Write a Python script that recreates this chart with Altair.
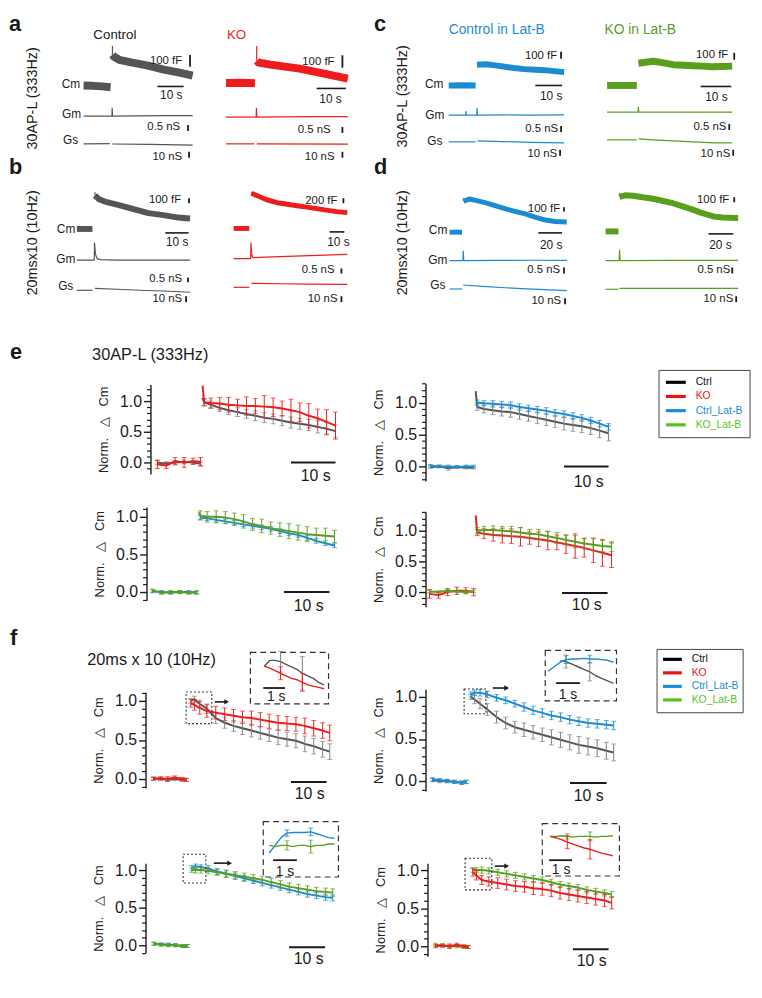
import altair as alt
import pandas as pd

# ===================== DATA =====================
# --- a-d: raw traces. t in s from stimulus; Cm in fF above baseline; Gm, Gs in nS ---
A_CTRL_CM_BASE_T = [-10.6, -7.0, -3.5, -0.3]
A_CTRL_CM_BASE = [0, -3, -8, -15]
A_CTRL_CM_T = [0.4, 1, 3, 8, 14, 20, 26, 31]
A_CTRL_CM = [265, 248, 222, 197, 171, 137, 111, 85]
A_CTRL_CM_PEAK = 342
A_CTRL_GM_T = [-10.6, -0.3, 0.2, 0.3, 0.45, 10, 20, 31]
A_CTRL_GM = [0, 0, 0, 0.67, 0, 0.02, 0.04, 0.05]
A_CTRL_GS_BASE_T = [-10.6, -0.6]
A_CTRL_GS_BASE = [0, 0.5]
A_CTRL_GS_T = [0.3, 15, 31]
A_CTRL_GS = [-0.3, -1, -2]

A_KO_CM_BASE_T = [-10.2, -5, -0.3]
A_KO_CM_BASE = [0, 2, -2]
A_KO_CM_T = [0.3, 1, 5, 10, 15, 20, 25, 31.5]
A_KO_CM = [180, 164, 148, 132, 116, 92, 68, 36]
A_KO_CM_PEAK = 300
A_KO_GM_T = [-10.2, -0.3, 0.1, 0.2, 0.35, 10, 20, 31.5]
A_KO_GM = [0, 0, 0, 0.75, 0, 0.02, 0.04, 0.04]
A_KO_GS_BASE_T = [-10.2, -0.5]
A_KO_GS_BASE = [0, 0]
A_KO_GS_T = [0.3, 31.5]
A_KO_GS = [0, -0.5]

C_CTRL_CM_BASE_T = [-10.4, -5, -0.3]
C_CTRL_CM_BASE = [0, 3, 0]
C_CTRL_CM_T = [0.2, 3.5, 7, 10.6, 14, 18, 22, 25.4, 29, 32.8]
C_CTRL_CM = [300, 307, 290, 271, 252, 236, 228, 221, 207, 193]
C_CTRL_GM_T = [-10.4, -4.0, -3.9, -3.8, -0.3, 0.1, 0.2, 0.35, 10, 20, 32.8]
C_CTRL_GM = [0, 0, 0.33, 0, 0, 0, 0.58, 0, 0.02, 0, 0.02]
C_CTRL_GS_BASE_T = [-10.4, -0.3]
C_CTRL_GS_BASE = [0, 0]
C_CTRL_GS_T = [0.3, 10, 20, 32.8]
C_CTRL_GS = [1.7, 0.5, -0.8, -1.7]

C_KO_CM_BASE_T = [-10, -5, -0.3]
C_KO_CM_BASE = [0, 0, 0]
C_KO_CM_T = [0.2, 2.5, 5, 8, 11.5, 15, 17.9, 21, 24.4, 27.5, 30.8]
C_KO_CM = [321, 335, 350, 330, 300, 292, 286, 280, 271, 275, 279]
C_KO_GM_T = [-10, -0.3, 0.1, 0.2, 0.35, 15, 30.8]
C_KO_GM = [0, 0, 0, 0.42, 0, 0, 0]
C_KO_GS_BASE_T = [-10, -0.3]
C_KO_GS_BASE = [0, 0]
C_KO_GS_T = [0.3, 5, 18, 25, 30.8]
C_KO_GS = [1.7, 0, -3.3, -5, -5]

B_CTRL_CM_BASE_T = [-7.2, -3.5, -0.5]
B_CTRL_CM_BASE = [0, 0, 0]
B_CTRL_CM_T = [0.6, 2.3, 5.7, 10.9, 17.2, 23.6, 30, 36.4, 41.5]
B_CTRL_CM = [680, 600, 540, 480, 400, 320, 280, 230, 210]
B_CTRL_CM_PEAK = 740
B_CTRL_GM_T = [-7.2, -0.5, 0.3, 0.4, 0.8, 1.5, 3, 10, 41.5]
B_CTRL_GM = [0, 0, 0, 1.75, 0.6, 0.15, 0.05, 0, 0]
B_CTRL_GS_BASE_T = [-7.2, -0.5]
B_CTRL_GS_BASE = [0, 0]
B_CTRL_GS_T = [0.6, 10, 20, 30, 41.5]
B_CTRL_GS = [3.3, 1.7, 0, -1.2, -3.3]

B_KO_CM_BASE_T = [-11.3, -5, -0.7]
B_KO_CM_BASE = [0, 0, 0]
B_KO_CM_T = [0.7, 4.7, 11, 18, 25, 31.3, 38, 44.7, 51, 58, 65.3]
B_KO_CM = [1420, 1320, 1160, 1040, 980, 920, 860, 800, 740, 680, 640]
B_KO_CM_PEAK = 1460
B_KO_GM_T = [-11.3, -0.7, 0.2, 0.4, 0.8, 1.5, 10, 30, 50, 65.3]
B_KO_GM = [0, 0, 0, 1.6, 0.5, 0.1, 0.15, 0.25, 0.35, 0.42]
B_KO_GS_BASE_T = [-11.3, -0.7]
B_KO_GS_BASE = [0, 0]
B_KO_GS_T = [0.7, 20, 40, 65.3]
B_KO_GS = [6.7, 6, 5.5, 5]

D_CTRL_CM_BASE_T = [-11, -5, -0.5]
D_CTRL_CM_BASE = [0, 0, 0]
D_CTRL_CM_T = [0.7, 5.7, 12, 19.6, 28, 36.25, 44, 52.9, 61, 69.6, 78, 87.7]
D_CTRL_CM = [700, 745, 710, 658, 590, 524, 470, 413, 340, 273, 240, 229]
D_CTRL_CM_PEAK = 770
D_CTRL_GM_T = [-11, -0.5, 0.2, 0.5, 1.0, 30, 60, 87.7]
D_CTRL_GM = [0, 0, 0, 0.8, 0, 0.02, 0.03, 0.02]
D_CTRL_GS_BASE_T = [-11, -0.5]
D_CTRL_GS_BASE = [0, 0]
D_CTRL_GS_T = [0.5, 20, 50, 87.7]
D_CTRL_GS = [6.7, 4, 0.5, -2.7]

D_KO_CM_BASE_T = [-10.8, -5, -0.4]
D_KO_CM_BASE = [0, 0, 0]
D_KO_CM_T = [0.4, 5, 11.6, 19, 27.6, 35, 43.6, 51, 59.6, 66, 71.6, 77, 83.6, 90, 96.4]
D_KO_CM = [700, 730, 720, 690, 660, 620, 570, 510, 440, 380, 340, 300, 280, 275, 270]
D_KO_CM_PEAK = 770
D_KO_GM_T = [-10.8, -0.4, 0.2, 0.5, 1.0, 40, 96.4]
D_KO_GM = [0, 0, 0, 0.9, 0, 0.02, 0.02]
D_KO_GS_BASE_T = [-10.8, -0.4]
D_KO_GS_BASE = [0, 0]
D_KO_GS_T = [0.4, 96.4]
D_KO_GS = [1.7, 1.7]

# --- e, f: normalized delta Cm, mean and error ---
E_BASE_T = [-10, -8, -6, -4, -2, -0.3]
E_T = [0.5, 2, 4, 6, 8, 10, 12, 14, 16, 18, 20, 22, 24, 26, 28, 30]
F_BASE_T = [-10, -8, -6, -4, -2, -0.8]
F_T = [0.5, 1.5, 3, 5, 7.5, 10, 12.5, 15, 17.5, 20, 22.5, 25, 27.5, 30, 32.5, 35, 37.5, 39.5]

E1_CTRL_BASE = [0.0, -0.02, 0.0, 0.01, 0.0, -0.02]
E1_CTRL_BASE_ERR = [0.03, 0.03, 0.03, 0.03, 0.03, 0.03]
E1_CTRL_PEAK = 1.05
E1_CTRL = [0.98, 0.94, 0.89, 0.85, 0.82, 0.79, 0.76, 0.73, 0.71, 0.68, 0.65, 0.63, 0.61, 0.58, 0.55, 0.51]
E1_CTRL_ERR = [0.05, 0.06, 0.06, 0.07, 0.07, 0.07, 0.08, 0.08, 0.08, 0.08, 0.09, 0.09, 0.09, 0.1, 0.1, 0.1]
E1_KO_BASE = [-0.03, -0.05, 0.02, 0.0, 0.02, 0.01]
E1_KO_BASE_ERR = [0.07, 0.05, 0.06, 0.08, 0.05, 0.07]
E1_KO_PEAK = 1.25
E1_KO = [0.98, 0.97, 0.96, 0.94, 0.93, 0.92, 0.92, 0.91, 0.9, 0.88, 0.85, 0.82, 0.76, 0.72, 0.66, 0.6]
E1_KO_ERR = [0.06, 0.08, 0.1, 0.12, 0.1, 0.15, 0.12, 0.18, 0.15, 0.12, 0.18, 0.15, 0.2, 0.15, 0.2, 0.22]

E2_CTRL_BASE = [-0.01, 0.0, -0.03, -0.01, -0.02, -0.02]
E2_CTRL_BASE_ERR = [0.02, 0.02, 0.03, 0.02, 0.02, 0.02]
E2_CTRL_PEAK = 1.18
E2_CTRL = [0.93, 0.9, 0.88, 0.86, 0.85, 0.82, 0.79, 0.76, 0.73, 0.7, 0.67, 0.65, 0.63, 0.6, 0.56, 0.52]
E2_CTRL_ERR = [0.05, 0.06, 0.07, 0.07, 0.08, 0.08, 0.08, 0.09, 0.09, 0.09, 0.1, 0.1, 0.1, 0.1, 0.11, 0.12]
E2_BLUE_BASE = [0.01, 0.0, 0.0, -0.01, 0.0, 0.0]
E2_BLUE_BASE_ERR = [0.02, 0.02, 0.02, 0.02, 0.02, 0.02]
E2_BLUE = [1.0, 0.99, 0.98, 0.97, 0.96, 0.93, 0.91, 0.89, 0.87, 0.84, 0.82, 0.79, 0.76, 0.72, 0.67, 0.62]
E2_BLUE_ERR = [0.04, 0.04, 0.05, 0.05, 0.05, 0.05, 0.05, 0.05, 0.05, 0.05, 0.05, 0.05, 0.05, 0.05, 0.05, 0.05]

E3_BLUE_BASE = [0.01, 0.0, -0.01, 0.0, 0.0, -0.01]
E3_BLUE_BASE_ERR = [0.02, 0.02, 0.02, 0.02, 0.02, 0.02]
E3_BLUE = [0.99, 0.98, 0.96, 0.94, 0.92, 0.9, 0.88, 0.86, 0.84, 0.81, 0.78, 0.76, 0.72, 0.68, 0.65, 0.62]
E3_BLUE_ERR = [0.03, 0.03, 0.03, 0.03, 0.03, 0.03, 0.03, 0.03, 0.03, 0.03, 0.03, 0.03, 0.03, 0.03, 0.03, 0.03]
E3_GREEN_BASE = [0.02, -0.01, 0.0, 0.0, -0.01, 0.0]
E3_GREEN_BASE_ERR = [0.02, 0.02, 0.02, 0.02, 0.02, 0.02]
E3_GREEN_PEAK = 1.06
E3_GREEN = [1.02, 1.0, 1.0, 0.99, 0.97, 0.94, 0.9, 0.88, 0.85, 0.83, 0.81, 0.79, 0.77, 0.76, 0.75, 0.74]
E3_GREEN_ERR = [0.06, 0.07, 0.08, 0.08, 0.08, 0.09, 0.08, 0.09, 0.08, 0.09, 0.1, 0.1, 0.1, 0.09, 0.1, 0.08]

E4_KO_BASE = [-0.03, -0.05, 0.0, 0.02, 0.02, 0.0]
E4_KO_BASE_ERR = [0.07, 0.05, 0.06, 0.06, 0.05, 0.06]
E4_KO_PEAK = 1.25
E4_KO = [0.97, 0.95, 0.93, 0.92, 0.91, 0.9, 0.88, 0.86, 0.84, 0.81, 0.78, 0.75, 0.72, 0.68, 0.64, 0.6]
E4_KO_ERR = [0.05, 0.08, 0.1, 0.12, 0.12, 0.15, 0.1, 0.12, 0.15, 0.12, 0.15, 0.2, 0.15, 0.2, 0.22, 0.2]
E4_GREEN_BASE = [0.01, 0.0, 0.02, 0.01, 0.0, 0.01]
E4_GREEN_BASE_ERR = [0.02, 0.02, 0.02, 0.02, 0.02, 0.02]
E4_GREEN = [1.0, 1.01, 1.01, 1.0, 0.99, 0.97, 0.95, 0.94, 0.91, 0.88, 0.85, 0.82, 0.79, 0.77, 0.75, 0.74]
E4_GREEN_ERR = [0.05, 0.06, 0.07, 0.07, 0.08, 0.08, 0.07, 0.08, 0.08, 0.09, 0.08, 0.1, 0.09, 0.1, 0.09, 0.08]

F1_CTRL_BASE = [0.01, 0.0, -0.01, 0.0, -0.01, -0.01]
F1_CTRL_BASE_ERR = [0.02, 0.02, 0.02, 0.02, 0.02, 0.02]
F1_CTRL = [1.0, 1.02, 0.96, 0.9, 0.78, 0.72, 0.68, 0.65, 0.62, 0.59, 0.56, 0.53, 0.51, 0.49, 0.45, 0.42, 0.38, 0.35]
F1_CTRL_ERR = [0.03, 0.04, 0.05, 0.06, 0.07, 0.07, 0.07, 0.08, 0.08, 0.08, 0.08, 0.09, 0.09, 0.09, 0.1, 0.1, 0.1, 0.1]
F1_KO_BASE = [0.0, 0.01, 0.0, 0.02, 0.0, -0.01]
F1_KO_BASE_ERR = [0.02, 0.02, 0.03, 0.02, 0.02, 0.02]
F1_KO = [0.97, 0.95, 0.91, 0.87, 0.85, 0.83, 0.81, 0.79, 0.78, 0.76, 0.74, 0.72, 0.71, 0.7, 0.68, 0.65, 0.62, 0.59]
F1_KO_ERR = [0.05, 0.07, 0.08, 0.08, 0.08, 0.08, 0.08, 0.08, 0.09, 0.09, 0.09, 0.09, 0.09, 0.09, 0.1, 0.1, 0.1, 0.1]

F2_CTRL_BASE = [0.01, 0.0, 0.0, -0.01, -0.02, -0.01]
F2_CTRL_BASE_ERR = [0.02, 0.02, 0.02, 0.02, 0.02, 0.02]
F2_CTRL = [1.0, 0.97, 0.92, 0.85, 0.76, 0.69, 0.64, 0.61, 0.58, 0.55, 0.52, 0.49, 0.46, 0.43, 0.41, 0.39, 0.36, 0.34]
F2_CTRL_ERR = [0.03, 0.05, 0.06, 0.07, 0.07, 0.07, 0.07, 0.08, 0.08, 0.08, 0.09, 0.09, 0.09, 0.1, 0.1, 0.1, 0.1, 0.1]
F2_BLUE_BASE = [0.02, 0.01, 0.0, -0.01, -0.02, -0.01]
F2_BLUE_BASE_ERR = [0.02, 0.02, 0.02, 0.02, 0.02, 0.02]
F2_BLUE = [1.03, 1.05, 1.05, 1.03, 0.99, 0.96, 0.92, 0.88, 0.84, 0.81, 0.78, 0.76, 0.73, 0.71, 0.69, 0.68, 0.67, 0.66]
F2_BLUE_ERR = [0.03, 0.03, 0.04, 0.04, 0.04, 0.04, 0.04, 0.05, 0.05, 0.05, 0.05, 0.05, 0.05, 0.05, 0.05, 0.05, 0.05, 0.05]

F3_BLUE_BASE = [0.02, 0.01, 0.01, 0.0, -0.01, -0.01]
F3_BLUE_BASE_ERR = [0.02, 0.02, 0.02, 0.02, 0.02, 0.02]
F3_BLUE = [1.03, 1.05, 1.04, 1.02, 0.98, 0.95, 0.92, 0.89, 0.86, 0.83, 0.8, 0.77, 0.74, 0.71, 0.68, 0.66, 0.64, 0.63]
F3_BLUE_ERR = [0.03, 0.03, 0.03, 0.04, 0.04, 0.04, 0.04, 0.04, 0.04, 0.04, 0.04, 0.04, 0.04, 0.04, 0.04, 0.04, 0.04, 0.04]
F3_GREEN_BASE = [0.02, 0.01, 0.0, 0.0, -0.01, -0.01]
F3_GREEN_BASE_ERR = [0.02, 0.02, 0.02, 0.02, 0.02, 0.02]
F3_GREEN = [1.0, 1.0, 1.0, 0.99, 0.97, 0.95, 0.93, 0.91, 0.89, 0.87, 0.84, 0.81, 0.78, 0.76, 0.74, 0.72, 0.71, 0.7]
F3_GREEN_ERR = [0.03, 0.04, 0.04, 0.04, 0.04, 0.05, 0.05, 0.05, 0.05, 0.05, 0.05, 0.05, 0.05, 0.05, 0.05, 0.05, 0.05, 0.05]

F4_GREEN_BASE = [0.02, 0.01, 0.0, 0.0, -0.01, -0.01]
F4_GREEN_BASE_ERR = [0.02, 0.02, 0.02, 0.02, 0.02, 0.02]
F4_GREEN = [1.0, 1.0, 1.0, 0.99, 0.97, 0.95, 0.93, 0.91, 0.89, 0.87, 0.84, 0.81, 0.79, 0.77, 0.74, 0.72, 0.7, 0.68]
F4_GREEN_ERR = [0.03, 0.03, 0.04, 0.04, 0.04, 0.04, 0.04, 0.04, 0.04, 0.04, 0.04, 0.04, 0.04, 0.04, 0.04, 0.04, 0.04, 0.04]
F4_KO_BASE = [0.0, 0.01, 0.0, 0.02, 0.0, -0.01]
F4_KO_BASE_ERR = [0.02, 0.02, 0.03, 0.02, 0.02, 0.02]
F4_KO = [0.97, 0.93, 0.87, 0.85, 0.83, 0.81, 0.79, 0.78, 0.76, 0.75, 0.73, 0.7, 0.68, 0.66, 0.64, 0.62, 0.6, 0.57]
F4_KO_ERR = [0.05, 0.06, 0.06, 0.06, 0.07, 0.07, 0.07, 0.07, 0.08, 0.08, 0.08, 0.08, 0.08, 0.08, 0.08, 0.08, 0.08, 0.08]

# --- f insets (first ~3 s) ---
INSET_T = [0, 0.25, 0.5, 0.75, 1.0, 1.25, 1.5, 1.75, 2.0, 2.25, 2.5, 2.75]
INSET_ERR_IDX = [3, 7]
F1_IN_CTRL = [0.985, 1.03, 1.03, 1.02, 1.0, 0.98, 0.96, 0.93, 0.91, 0.89, 0.86, 0.84]
F1_IN_CTRL_ERR = [0.08, 0.13]
F1_IN_KO = [0.985, 0.97, 0.95, 0.93, 0.91, 0.89, 0.88, 0.86, 0.84, 0.83, 0.82, 0.81]
F1_IN_KO_ERR = [0.05, 0.07]
F2_IN_BLUE = [0.915, 0.95, 0.985, 1.005, 1.01, 1.01, 1.015, 1.01, 1.01, 1.005, 1.0, 0.985]
F2_IN_BLUE_ERR = [0.03, 0.03]
F2_IN_CTRL = [None, None, 0.995, 0.99, 0.97, 0.95, 0.93, 0.91, 0.88, 0.86, 0.84, 0.82]
F2_IN_CTRL_ERR = [0.05, 0.07]
F3_IN_BLUE = [0.94, 1.0, 1.06, 1.095, 1.1, 1.1, 1.1, 1.105, 1.09, 1.075, 1.06, 1.055]
F3_IN_BLUE_ERR = [0.025, 0.03]
F3_IN_GREEN = [1.0, 0.99, 1.0, 1.0, 0.99, 1.0, 1.0, 0.99, 1.0, 1.0, 1.01, 1.01]
F3_IN_GREEN_ERR = [0.035, 0.05]
F4_IN_GREEN = [1.0, 1.0, 1.005, 1.0, 0.995, 1.0, 1.0, 1.0, 0.995, 1.0, 1.0, 1.005]
F4_IN_GREEN_ERR = [0.02, 0.035]
F4_IN_KO = [1.0, 0.99, 0.975, 0.955, 0.94, 0.925, 0.91, 0.9, 0.885, 0.87, 0.86, 0.85]
F4_IN_KO_ERR = [0.05, 0.075]

LEGEND_NAMES = ["Ctrl", "KO", "Ctrl_Lat-B", "KO_Lat-B"]
MAJOR_TICKS = [0.0, 0.5, 1.0]
MINOR_TICKS = [-0.2, -0.1, 0.1, 0.2, 0.3, 0.4, 0.6, 0.7, 0.8, 0.9, 1.1, 1.2, 1.3]

# ===================== STYLE / LAYOUT =====================
OX, OY = 8, 8
W, H = 754, 990
FONT = "Liberation Sans, Arial, sans-serif"
INK = "#1a1a1a"
GREY, GREY_E = "#555555", "#808080"
RED, BLUE, GREEN = "#ee1c1c", "#1c8bd2", "#5a9e1e"
LEG_COLORS = ["#000000", "#ee1111", "#1c8bd2", "#55c41c"]
LEG_TEXT = ["#111111", "#e81818", "#1c8bd2", "#5cc228"]
NB = "\u00a0"
DUMMY = pd.DataFrame({"k": [0]})


def frame(x0, pps, y0, ppu, lo=-1.0e4, hi=1.0e4):
    return dict(
        x0=x0, pps=pps, y0=y0, ppu=ppu, lo=lo, hi=hi,
        xs=alt.Scale(domain=[-300, 300], range=[x0 - 300 * pps - OX, x0 + 300 * pps - OX],
                     nice=False, zero=False),
        ys=alt.Scale(domain=[lo, hi], range=[y0 - lo * ppu - OY, y0 - hi * ppu - OY],
                     nice=False, zero=False),
    )


def tx(fr, px):
    return (px - fr["x0"]) / fr["pps"]


def vy(fr, py):
    return (fr["y0"] - py) / fr["ppu"]


def X(fr, f="t"):
    return alt.X(f"{f}:Q", scale=fr["xs"], axis=None)


def Y(fr, f="v"):
    return alt.Y(f"{f}:Q", scale=fr["ys"], axis=None)


def line(fr, t, v, color, width, opacity=1.0):
    rows = [(a, b) for a, b in zip(t, v) if b is not None]
    df = pd.DataFrame({"t": [r[0] for r in rows], "v": [r[1] for r in rows]})
    return alt.Chart(df).mark_line(color=color, strokeWidth=width, opacity=opacity,
                                   strokeJoin="round").encode(x=X(fr), y=Y(fr))


def seg(fr, t1, v1, t2, v2, color=INK, width=1.5, dash=None):
    mk = dict(color=color, strokeWidth=width)
    if dash:
        mk["strokeDash"] = dash
    df = pd.DataFrame({"t": [t1], "v": [v1], "t2": [t2], "v2": [v2]})
    return alt.Chart(df).mark_rule(**mk).encode(x=X(fr), y=Y(fr), x2="t2:Q", y2="v2:Q")


def errbars(fr, t, v, e, color, cap=5, width=1.0):
    df = pd.DataFrame({"t": t, "lo": [a - b for a, b in zip(v, e)], "hi": [a + b for a, b in zip(v, e)]})
    base = alt.Chart(df)
    return [
        base.mark_rule(color=color, strokeWidth=width).encode(x=X(fr), y=Y(fr, "lo"), y2="hi:Q"),
        base.mark_tick(color=color, orient="horizontal", size=cap, thickness=width).encode(x=X(fr), y=Y(fr, "hi")),
        base.mark_tick(color=color, orient="horizontal", size=cap, thickness=width).encode(x=X(fr), y=Y(fr, "lo")),
    ]


def box(fr, x1, y1, x2, y2, stroke=INK, width=1.0, dash=None, fill=None):
    mk = dict(stroke=stroke, strokeWidth=width)
    if dash:
        mk["strokeDash"] = dash
    if fill:
        mk["fill"] = fill
    else:
        mk["fillOpacity"] = 0
    df = pd.DataFrame({"t": [tx(fr, x1)], "t2": [tx(fr, x2)], "v": [vy(fr, y1)], "v2": [vy(fr, y2)]})
    return alt.Chart(df).mark_rect(**mk).encode(x=X(fr), x2="t2:Q", y=Y(fr), y2="v2:Q")


def txt(s, x, y, size=12, color=INK, align="center", angle=0, weight="normal", font=FONT, baseline="middle"):
    return alt.Chart(DUMMY).mark_text(text=s, fontSize=size, color=color, align=align, baseline=baseline,
                                      angle=angle, fontWeight=weight, font=font).encode(
        x=alt.value(x - OX), y=alt.value(y - OY))


layers = []

# ===================== panels a-d =====================
def trace_panel(x0, pps, cm, gm, gs, color, cm_w, d, bars):
    fcm, fgm, fgs = frame(x0, pps, *cm), frame(x0, pps, *gm), frame(x0, pps, *gs)
    L = [line(fcm, d["cm_bt"], d["cm_bv"], color, cm_w), line(fcm, d["cm_t"], d["cm_v"], color, cm_w)]
    if d.get("peak") is not None:
        L.append(seg(fcm, d["cm_t"][0], d["cm_v"][0], d["cm_t"][0], d["peak"], color, 1.2))
    L += [line(fgm, d["gm_t"], d["gm_v"], color, 1.2),
          line(fgs, d["gs_bt"], d["gs_bv"], color, 1.2),
          line(fgs, d["gs_t"], d["gs_v"], color, 1.2)]
    (cx, cy, clen), (tx0, ty, tlen), (gx, gy), (sx, sy) = bars
    t, v = tx(fcm, cx), vy(fcm, cy)
    L.append(seg(fcm, t, v, t, v + clen, INK, 1.8))
    t, v = tx(fcm, tx0), vy(fcm, ty)
    L.append(seg(fcm, t, v, t + tlen, v, INK, 1.6))
    t, v = tx(fgm, gx), vy(fgm, gy)
    L.append(seg(fgm, t, v, t, v + 0.5, INK, 1.8))
    t, v = tx(fgs, sx), vy(fgs, sy)
    L.append(seg(fgs, t, v, t, v + 10, INK, 1.8))
    return L


def pack(cm_bt, cm_bv, cm_t, cm_v, peak, gm_t, gm_v, gs_bt, gs_bv, gs_t, gs_v):
    return dict(cm_bt=cm_bt, cm_bv=cm_bv, cm_t=cm_t, cm_v=cm_v, peak=peak, gm_t=gm_t, gm_v=gm_v,
                gs_bt=gs_bt, gs_bv=gs_bv, gs_t=gs_t, gs_v=gs_v)


layers += trace_panel(112.5, 2.65, (81, 0.117), (112, 12), (140, 0.6), GREY, 8,
                      pack(A_CTRL_CM_BASE_T, A_CTRL_CM_BASE, A_CTRL_CM_T, A_CTRL_CM, A_CTRL_CM_PEAK,
                           A_CTRL_GM_T, A_CTRL_GM, A_CTRL_GS_BASE_T, A_CTRL_GS_BASE, A_CTRL_GS_T, A_CTRL_GS),
                      ((192, 62, 100), (159, 82, 10), (190, 127), (191, 154)))
layers += trace_panel(258.5, 2.95, (78.5, 0.125), (113, 12), (140, 0.6), RED, 8,
                      pack(A_KO_CM_BASE_T, A_KO_CM_BASE, A_KO_CM_T, A_KO_CM, A_KO_CM_PEAK,
                           A_KO_GM_T, A_KO_GM, A_KO_GS_BASE_T, A_KO_GS_BASE, A_KO_GS_T, A_KO_GS),
                      ((346, 63, 100), (320, 84, 10), (346, 129), (346, 154)))
layers += trace_panel(481.5, 2.7, (81, 0.07), (111, 12), (138, 0.6), BLUE, 6,
                      pack(C_CTRL_CM_BASE_T, C_CTRL_CM_BASE, C_CTRL_CM_T, C_CTRL_CM, None,
                           C_CTRL_GM_T, C_CTRL_GM, C_CTRL_GS_BASE_T, C_CTRL_GS_BASE, C_CTRL_GS_T, C_CTRL_GS),
                      ((567, 54, 100), (541, 81, 10), (567, 128), (566, 152)))
layers += trace_panel(644.5, 3.1, (81, 0.07), (108, 12), (136, 0.6), GREEN, 7,
                      pack(C_KO_CM_BASE_T, C_KO_CM_BASE, C_KO_CM_T, C_KO_CM, None,
                           C_KO_GM_T, C_KO_GM, C_KO_GS_BASE_T, C_KO_GS_BASE, C_KO_GS_T, C_KO_GS),
                      ((742, 55, 100), (708, 82, 10), (737, 126), (741, 152)))
layers += trace_panel(94.5, 2.35, (226, 0.05), (257.5, 10), (288, 0.6), GREY, 6,
                      pack(B_CTRL_CM_BASE_T, B_CTRL_CM_BASE, B_CTRL_CM_T, B_CTRL_CM, B_CTRL_CM_PEAK,
                           B_CTRL_GM_T, B_CTRL_GM, B_CTRL_GS_BASE_T, B_CTRL_GS_BASE, B_CTRL_GS_T, B_CTRL_GS),
                      ((191, 200, 100), (167, 230, 10), (190, 280), (188, 300)))
layers += trace_panel(253, 1.5, (225.5, 0.025), (256, 10), (285, 0.6), RED, 5,
                      pack(B_KO_CM_BASE_T, B_KO_CM_BASE, B_KO_CM_T, B_KO_CM, B_KO_CM_PEAK,
                           B_KO_GM_T, B_KO_GM, B_KO_GS_BASE_T, B_KO_GS_BASE, B_KO_GS_T, B_KO_GS),
                      ((347, 200, 200), (333, 229, 10), (345, 271), (345, 300)))
layers += trace_panel(467.5, 1.2, (229.3, 0.045), (258, 12), (286.7, 0.6), BLUE, 5,
                      pack(D_CTRL_CM_BASE_T, D_CTRL_CM_BASE, D_CTRL_CM_T, D_CTRL_CM, D_CTRL_CM_PEAK,
                           D_CTRL_GM_T, D_CTRL_GM, D_CTRL_GS_BASE_T, D_CTRL_GS_BASE, D_CTRL_GS_T, D_CTRL_GS),
                      ((570, 208.5, 100), (544, 230, 20), (570, 271), (571, 302)))
layers += trace_panel(625.5, 1.25, (228.5, 0.05), (258, 12), (287, 0.6), GREEN, 6,
                      pack(D_KO_CM_BASE_T, D_KO_CM_BASE, D_KO_CM_T, D_KO_CM, D_KO_CM_PEAK,
                           D_KO_GM_T, D_KO_GM, D_KO_GS_BASE_T, D_KO_GS_BASE, D_KO_GS_T, D_KO_GS),
                      ((742, 199, 100), (716, 231, 20), (740, 271), (744, 300)))

TS = 11.5
trace_texts = [
    # a
    ("Cm", 81, 80, 12, "right"), ("Gm", 82, 110, 12, "right"), ("Gs", 79, 136, 12, "right"),
    ("100 fF", 184, 56, TS, "right"), ("10 s", 173, 91, 12, "center"),
    ("0.5 nS", 182, 123, TS, "right"), ("10 nS", 184, 153, TS, "right"),
    ("100 fF", 338, 57, TS, "right"), ("10 s", 334, 95, 12, "center"),
    ("0.5 nS", 334, 126, TS, "right"), ("10 nS", 338, 153, TS, "right"),
    # c
    ("Cm", 448, 80, 12, "right"), ("Gm", 449, 111, 12, "right"), ("Gs", 447, 137, 12, "right"),
    ("100 fF", 563, 51, TS, "right"), ("10 s", 557, 92, 12, "center"),
    ("0.5 nS", 564, 125, TS, "right"), ("10 nS", 563, 150, TS, "right"),
    ("100 fF", 736, 50, TS, "right"), ("10 s", 724, 93, 12, "center"),
    ("0.5 nS", 734, 123, TS, "right"), ("10 nS", 738, 150, TS, "right"),
    # b
    ("Cm", 76, 226, 12, "right"), ("Gm", 76, 256, 12, "right"), ("Gs", 74, 284, 12, "right"),
    ("100 fF", 183, 197, TS, "right"), ("10 s", 179, 239, 12, "center"),
    ("0.5 nS", 184, 277, TS, "right"), ("10 nS", 184, 297, TS, "right"),
    ("200 fF", 341, 198, TS, "right"), ("10 s", 342, 239, 12, "center"),
    ("0.5 nS", 338, 268, TS, "right"), ("10 nS", 341, 297, TS, "right"),
    # d
    ("Cm", 452, 227, 12, "right"), ("Gm", 452, 257, 12, "right"), ("Gs", 450, 283, 12, "right"),
    ("100 fF", 566, 206, TS, "right"), ("20 s", 557, 242, 12, "center"),
    ("0.5 nS", 566, 268, TS, "right"), ("10 nS", 567, 299, TS, "right"),
    ("100 fF", 737, 197, TS, "right"), ("20 s", 728, 242, 12, "center"),
    ("0.5 nS", 738, 268, TS, "right"), ("10 nS", 741, 297, TS, "right"),
]
for s, x, y, size, al in trace_texts:
    layers.append(txt(s, x, y, size, INK, al))

layers += [
    txt("Control", 116, 30, 13.5), txt("KO", 239, 30, 13.5, RED),
    txt("Control in Lat-B", 502, 25, 14, BLUE), txt("KO in Lat-B", 647, 25, 14, GREEN),
    txt("30AP-L (333Hz)", 33, 94, 14.5, angle=270), txt("30AP-L (333Hz)", 407, 92, 14.5, angle=270),
    txt("20msx10 (10Hz)", 33, 240, 14.5, angle=270), txt("20msx10 (10Hz)", 407, 240, 14.5, angle=270),
]
LETTER_FONT = "Liberation Sans, Arial, sans-serif"
# a and c sit at the very top edge: anchor their top to the page so they are not cut
layers.append(txt("a", 9, 8.5, 22, INK, "left", weight="bold", font=LETTER_FONT, baseline="top"))
layers.append(txt("c", 378, 8.5, 22, INK, "left", weight="bold", font=LETTER_FONT, baseline="top"))
for s, x, y in [("b", 9, 170), ("d", 378, 170), ("e", 10, 357), ("f", 10, 647)]:
    layers.append(txt(s, x, y, 22, INK, "left", weight="bold", font=LETTER_FONT, baseline="alphabetic"))
layers.append(txt("30AP-L (333Hz)", 93, 353, 16.5, INK, "left"))
layers.append(txt("20ms x 10 (10Hz)", 88, 662, 16.5, INK, "left"))


# ===================== panels e, f =====================
def yaxis(fr, ax):
    off = -(ax - OX)
    lo, hi = fr["lo"], fr["hi"]
    major = alt.Chart(pd.DataFrame({"v": [0.0]})).mark_point(opacity=0).encode(
        y=alt.Y("v:Q", scale=fr["ys"], axis=alt.Axis(
            orient="left", offset=off, values=MAJOR_TICKS, format=".1f", grid=False,
            tickSize=7, tickWidth=1.4, tickColor=INK, domainColor=INK, domainWidth=1.4,
            labelFontSize=16, labelFont=FONT, labelColor=INK, labelPadding=2,
            title="Norm." + NB * 3 + "\u25b3" + NB * 3 + "Cm", titleFont=FONT, titleFontSize=13,
            titleFontWeight="normal", titleColor="#222222", titlePadding=9)))
    minor = alt.Chart(pd.DataFrame({"v": [0.0]})).mark_point(opacity=0).encode(
        y=alt.Y("v:Q", scale=fr["ys"], axis=alt.Axis(
            orient="left", offset=off, values=[m for m in MINOR_TICKS if lo <= m <= hi],
            grid=False, labels=False, domain=False, tickSize=4, tickWidth=1.2, tickColor=INK, title="")))
    return [major, minor]


def series(fr, tb, vb, eb, tp, vp, ep, color, ecolor, peak=None, width=2.0):
    pt = ([0.15] + tp) if peak is not None else tp
    pv = ([peak] + vp) if peak is not None else vp
    L = [line(fr, tb, vb, color, width), line(fr, pt, pv, color, width)]
    L += errbars(fr, tb + tp, vb + vp, eb + ep, ecolor)
    return L


def subplot(fr, ax, sers, bar_x, bar_y, text_xy):
    L = yaxis(fr, ax)
    for s in sers:
        L += series(fr, **s)
    t, v = tx(fr, bar_x), vy(fr, bar_y)
    L.append(seg(fr, t, v, t + 10, v, INK, 2))
    L.append(txt("10 s", text_xy[0], text_xy[1], 16))
    return L


def S(tb, vb, eb, tp, vp, ep, color, ecolor, peak=None):
    return dict(tb=tb, vb=vb, eb=eb, tp=tp, vp=vp, ep=ep, color=color, ecolor=ecolor, peak=peak)


E1 = frame(204, 4.5, 462, 62, -0.19, 1.27)
E2 = frame(480, 4.5, 466, 64.5, -0.23, 1.30)
E3 = frame(200, 4.6, 593, 76, -0.11, 1.13)
E4 = frame(480, 4.6, 593, 62, -0.24, 1.31)
F1 = frame(191, 3.6, 782, 79, -0.11, 1.11)
F2 = frame(474, 3.7, 784, 85, -0.12, 1.09)
F3 = frame(192, 3.65, 950, 76, -0.10, 1.09)
F4 = frame(476, 3.6, 951, 77, -0.13, 1.09)

layers += subplot(E1, 152, [
    S(E_BASE_T, E1_CTRL_BASE, E1_CTRL_BASE_ERR, E_T, E1_CTRL, E1_CTRL_ERR, GREY, GREY_E, E1_CTRL_PEAK),
    S(E_BASE_T, E1_KO_BASE, E1_KO_BASE_ERR, E_T, E1_KO, E1_KO_ERR, RED, RED, E1_KO_PEAK)],
    294, 462, (319, 476))
layers += subplot(E2, 430, [
    S(E_BASE_T, E2_CTRL_BASE, E2_CTRL_BASE_ERR, E_T, E2_CTRL, E2_CTRL_ERR, GREY, GREY_E, E2_CTRL_PEAK),
    S(E_BASE_T, E2_BLUE_BASE, E2_BLUE_BASE_ERR, E_T, E2_BLUE, E2_BLUE_ERR, BLUE, BLUE)],
    570, 466, (595, 482))
layers += subplot(E3, 148, [
    S(E_BASE_T, E3_BLUE_BASE, E3_BLUE_BASE_ERR, E_T, E3_BLUE, E3_BLUE_ERR, BLUE, BLUE),
    S(E_BASE_T, E3_GREEN_BASE, E3_GREEN_BASE_ERR, E_T, E3_GREEN, E3_GREEN_ERR, GREEN, GREEN, E3_GREEN_PEAK)],
    287, 593, (312, 607))
layers += subplot(E4, 430, [
    S(E_BASE_T, E4_KO_BASE, E4_KO_BASE_ERR, E_T, E4_KO, E4_KO_ERR, RED, RED, E4_KO_PEAK),
    S(E_BASE_T, E4_GREEN_BASE, E4_GREEN_BASE_ERR, E_T, E4_GREEN, E4_GREEN_ERR, GREEN, GREEN)],
    568, 594, (593, 606))
layers += subplot(F1, 147, [
    S(F_BASE_T, F1_CTRL_BASE, F1_CTRL_BASE_ERR, F_T, F1_CTRL, F1_CTRL_ERR, GREY, GREY_E),
    S(F_BASE_T, F1_KO_BASE, F1_KO_BASE_ERR, F_T, F1_KO, F1_KO_ERR, RED, RED)],
    294, 785, (313, 797))
layers += subplot(F2, 430, [
    S(F_BASE_T, F2_CTRL_BASE, F2_CTRL_BASE_ERR, F_T, F2_CTRL, F2_CTRL_ERR, GREY, GREY_E),
    S(F_BASE_T, F2_BLUE_BASE, F2_BLUE_BASE_ERR, F_T, F2_BLUE, F2_BLUE_ERR, BLUE, BLUE)],
    576, 786, (595, 799))
layers += subplot(F3, 147, [
    S(F_BASE_T, F3_BLUE_BASE, F3_BLUE_BASE_ERR, F_T, F3_BLUE, F3_BLUE_ERR, BLUE, BLUE),
    S(F_BASE_T, F3_GREEN_BASE, F3_GREEN_BASE_ERR, F_T, F3_GREEN, F3_GREEN_ERR, GREEN, GREEN)],
    292, 952, (312, 964))
layers += subplot(F4, 432, [
    S(F_BASE_T, F4_GREEN_BASE, F4_GREEN_BASE_ERR, F_T, F4_GREEN, F4_GREEN_ERR, GREEN, GREEN),
    S(F_BASE_T, F4_KO_BASE, F4_KO_BASE_ERR, F_T, F4_KO, F4_KO_ERR, RED, RED)],
    579, 954, (598, 966))


# zoom boxes + arrows
def zoom_marker(fr, bx, ar):
    L = [box(fr, bx[0], bx[1], bx[2], bx[3], "#333333", 1.1, [2, 2])]
    t1, t2, v = tx(fr, ar[0]), tx(fr, ar[1]), vy(fr, ar[2])
    L.append(seg(fr, t1, v, t2, v, INK, 1.6))
    L.append(alt.Chart(pd.DataFrame({"t": [t2], "v": [v]})).mark_point(
        shape="triangle-right", filled=True, size=30, color=INK, opacity=1).encode(x=X(fr), y=Y(fr)))
    return L


layers += zoom_marker(F1, (188, 694, 214, 726), (217, 229, 704))
layers += zoom_marker(F2, (469, 691, 491, 716), (498, 512, 690))
layers += zoom_marker(F3, (185, 858, 208, 887), (216, 232, 867))
layers += zoom_marker(F4, (470, 862, 497, 894), (500, 512, 870))


def inset(fr, bx, bar_x, bar_y, text_xy, sers):
    L = [box(fr, bx[0], bx[1], bx[2], bx[3], "#333333", 1.2, [6, 4])]
    for vals, errs, color, ecolor in sers:
        L.append(line(fr, INSET_T, vals, color, 1.4))
        L += errbars(fr, [INSET_T[i] for i in INSET_ERR_IDX], [vals[i] for i in INSET_ERR_IDX], errs, ecolor)
    t, v = tx(fr, bar_x), vy(fr, bar_y)
    L.append(seg(fr, t, v, t + 1, v, INK, 1.8))
    L.append(txt("1 s", text_xy[0], text_xy[1], 14))
    return L


IN1 = frame(267, 22, 796, 130)
IN2 = frame(554, 24, 792, 130)
IN3 = frame(272, 24, 979, 130)
IN4 = frame(556, 23, 970, 130)
layers += inset(IN1, (253, 654, 332, 706), 266, 690, (279, 699),
                [(F1_IN_CTRL, F1_IN_CTRL_ERR, GREY, GREY_E), (F1_IN_KO, F1_IN_KO_ERR, RED, RED)])
layers += inset(IN2, (551, 652, 623, 703), 562, 685, (574, 697),
                [(F2_IN_CTRL, F2_IN_CTRL_ERR, GREY, GREY_E), (F2_IN_BLUE, F2_IN_BLUE_ERR, BLUE, BLUE)])
layers += inset(IN3, (266, 825, 342, 881), 276, 864, (288, 876),
                [(F3_IN_BLUE, F3_IN_BLUE_ERR, BLUE, BLUE), (F3_IN_GREEN, F3_IN_GREEN_ERR, GREEN, GREEN)])
layers += inset(IN4, (548, 827, 626, 880), 555, 864, (567, 874),
                [(F4_IN_GREEN, F4_IN_GREEN_ERR, GREEN, GREEN), (F4_IN_KO, F4_IN_KO_ERR, RED, RED)])


# legends
def legend(x0, x1, y_first, spacing, top, bottom, sym_px, text_x):
    fr = frame(x0, x1 - x0, y_first, -spacing)
    L = [box(fr, x0, top, x1, bottom, "#444444", 1.0, None, "white")]
    for i, name in enumerate(LEGEND_NAMES):
        L.append(seg(fr, tx(fr, sym_px[0]), i, tx(fr, sym_px[1]), i, LEG_COLORS[i], 3.2))
        L.append(txt(name, text_x, y_first + i * spacing, 10.5, LEG_TEXT[i], "left"))
    return L


layers += legend(666, 758, 381, 14.33, 369, 437, (673, 693), 703)
layers += legend(664, 751, 661, 13.67, 651, 715, (670, 689), 699)

chart = alt.layer(*layers).properties(
    width=W, height=H, padding=0, autosize=alt.AutoSizeParams(type="none")
).resolve_scale(x="independent", y="independent").configure_view(stroke="transparent")

chart.save("out.html", embed_options={"renderer": "svg", "actions": False})
